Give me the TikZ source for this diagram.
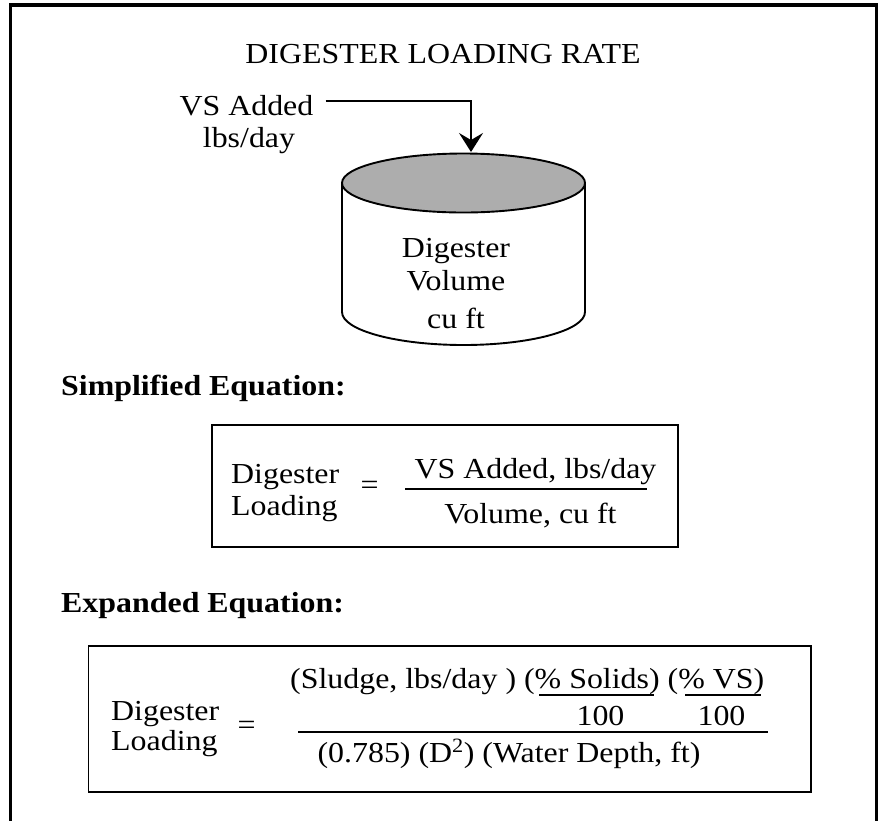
\documentclass[tikz,border=0pt]{standalone}
\usepackage{fontspec}
\setmainfont{Liberation Serif}[FakeStretch=1.1]
\usetikzlibrary{arrows.meta}
\newcommand{\bigtxt}{\fontsize{29}{33}\selectfont}

\begin{document}
\begin{tikzpicture}[x=1pt, y=-1pt,
  word/.style={font=\bigtxt, inner sep=0pt, anchor=base},
  wordleft/.style={word, anchor=base west},
  heading/.style={font=\bigtxt\bfseries, inner sep=0pt, anchor=base west},
  eqsign/.style={font=\bigtxt, inner sep=0pt},
  frameline/.style={line width=3.5pt},
  boxline/.style={line width=1.8pt},
  tankline/.style={line width=1.9pt},
  fracbar/.style={line width=2.6pt},
  smallbar/.style={line width=2pt},
  feed/.style={line width=1.8pt, -{Stealth[length=19pt,width=24pt,inset=7pt]}}]

\useasboundingbox (0,0) rectangle (882,820);

% outer frame, runs off the bottom edge
\draw[frameline] (10.5,824) -- (10.5,5) -- (876.5,5) -- (876.5,824);

% title
\node[word] (title) at (443,63) {DIGESTER LOADING RATE};

% feed label + arrow down into the tank
\node[word] (vs) at (246.5,115) {VS Added};
\node[word] (lbs) at (249,147) {lbs/day};
\coordinate (lid) at (471,152);
\draw[feed] ([xshift=12pt,yshift=4pt]vs.east) -| (lid);

% tank: shaded lid, walls, bottom
\filldraw[tankline, fill=black!32] (463.5,183) ellipse [x radius=121.5, y radius=29.5];
\draw[tankline] (342,183) -- (342,312)
  arc [start angle=180, end angle=0, x radius=121.5, y radius=33] -- (585,183);
\foreach \t/\y [count=\i] in {Digester/257, Volume/290, cu ft/328}
  \node[word] (tank\i) at (456,\y) {\t};

% simplified form
\node[heading] (simp) at (61,395) {Simplified Equation:};
\draw[boxline] (212,425) rectangle (678,547);
\node[wordleft] (sdig) at (231,483) {Digester};
\node[wordleft] (sload) at (231,515) {Loading};
\node[eqsign] (seq) at (369.5,488) {=};
\node[word] (snum) at (535.5,478) {VS Added, lbs/day};
\node[word] (sden) at (530.5,523) {Volume, cu ft};
\draw[fracbar] (405,489) -- (647,489);

% expanded form
\node[heading] (expd) at (61,612) {Expanded Equation:};
\draw[boxline] (88.5,646) rectangle (811,792);
\node[wordleft] (edig) at (111,720) {Digester};
\node[wordleft] (eload) at (111,750) {Loading};
\node[eqsign] (eeq) at (246.5,728) {=};
\node[wordleft] (enum) at (290,688) {(Sludge, lbs/day ) (\% Solids) (\% VS)};
\draw[smallbar] (539,695) -- (654,695);
\draw[smallbar] (685,695) -- (761,695);
\node[word] (solids) at (600.5,725) {100};
\node[word] (vspct) at (721.5,725) {100};
\draw[fracbar] (298,732) -- (768,732);
\node[word] (eden) at (509,762) {(0.785) (D\textsuperscript{2}) (Water Depth, ft)};
\end{tikzpicture}
\end{document}
